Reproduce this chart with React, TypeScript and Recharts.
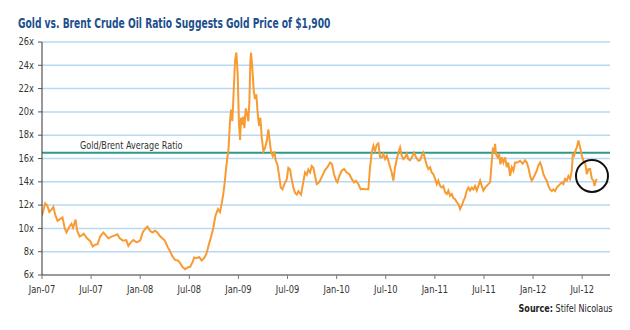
import React from 'react';
import { LineChart, Line, XAxis, YAxis, CartesianGrid, ReferenceLine, ReferenceDot } from 'recharts';

// x = months since Jan-2007, y = gold / brent ratio
const months: number[] = [
  0.0, 0.4, 0.65, 0.9, 1.2, 1.4, 1.6, 1.9, 2.2, 2.5, 2.8, 3.0, 3.3, 3.6, 3.8, 4.1, 4.3, 4.6, 4.85, 5.1,
  5.5, 5.9, 6.2, 6.5, 6.8, 7.1, 7.5, 7.8, 8.1, 8.5, 8.9, 9.2, 9.5, 9.9, 10.3, 10.55, 10.85, 11.15, 11.55, 12.0,
  12.3, 12.6, 12.9, 13.2, 13.5, 13.8, 14.1, 14.4, 14.7, 15.0, 15.4, 15.6, 15.9, 16.25, 16.6, 16.9, 17.15, 17.5, 17.8, 18.1,
  18.4, 18.6, 18.9, 19.2, 19.5, 19.8, 20.1, 20.4, 20.65, 20.9, 21.2, 21.5, 21.75, 21.95, 22.15, 22.35, 22.5, 22.65, 22.77, 22.97,
  23.1, 23.26, 23.42, 23.59, 23.75, 23.91, 24.07, 24.2, 24.32, 24.48, 24.6, 24.73, 24.89, 25.05, 25.21, 25.34, 25.46, 25.54, 25.7, 25.87,
  26.03, 26.19, 26.36, 26.52, 26.68, 26.85, 27.05, 27.25, 27.46, 27.66, 27.82, 27.98, 28.19, 28.39, 28.56, 28.76, 28.96, 29.17, 29.37, 29.61,
  29.9, 30.1, 30.31, 30.51, 30.71, 30.92, 31.13, 31.33, 31.65, 31.94, 32.14, 32.35, 32.54, 32.75, 32.96, 33.16, 33.36, 33.57, 33.77, 33.97,
  34.3, 34.58, 34.87, 35.2, 35.44, 35.68, 35.93, 36.09, 36.33, 36.62, 36.91, 37.23, 37.56, 37.84, 38.13, 38.37, 38.66, 38.94, 39.27, 39.55,
  39.88, 40.08, 40.29, 40.49, 40.69, 40.9, 41.1, 41.31, 41.51, 41.71, 41.92, 42.12, 42.32, 42.53, 42.73, 42.93, 43.14, 43.35, 43.54, 43.75,
  43.95, 44.15, 44.36, 44.57, 44.76, 44.97, 45.18, 45.46, 45.7, 45.99, 46.19, 46.4, 46.6, 46.8, 47.01, 47.21, 47.42, 47.62, 47.82, 48.03,
  48.23, 48.43, 48.64, 48.84, 49.04, 49.25, 49.46, 49.65, 49.86, 50.07, 50.26, 50.47, 50.68, 50.87, 51.08, 51.29, 51.48, 51.69, 51.9, 52.09,
  52.3, 52.51, 52.71, 52.91, 53.12, 53.32, 53.53, 53.73, 53.93, 54.14, 54.34, 54.54, 54.75, 54.96, 55.08, 55.24, 55.36, 55.48, 55.69, 55.85,
  56.01, 56.18, 56.37, 56.58, 56.79, 56.98, 57.19, 57.4, 57.6, 57.8, 58.09, 58.41, 58.74, 59.02, 59.23, 59.42, 59.64, 59.84, 60.04, 60.25,
  60.45, 60.65, 60.86, 61.07, 61.26, 61.47, 61.67, 61.87, 62.08, 62.29, 62.48, 62.69, 62.9, 63.09, 63.3, 63.51, 63.7, 63.91, 64.12, 64.32,
  64.52, 64.73, 64.85, 65.01, 65.17, 65.35, 65.54, 65.75, 65.95, 66.15, 66.36, 66.57, 66.77, 66.97, 67.18, 67.38, 67.5, 67.67, 67.79,
];

const ratio: number[] = [
  11.1, 12.15, 11.95, 11.4, 11.65, 11.85, 11.2, 10.65, 10.8, 10.95, 9.95, 9.65, 10.1, 10.4, 10.05, 10.75, 9.8, 9.3, 9.4, 9.55,
  9.15, 8.9, 8.45, 8.6, 8.65, 9.3, 9.65, 9.4, 9.15, 9.3, 9.4, 9.5, 9.15, 8.95, 9.0, 8.5, 8.8, 9.0, 8.8, 8.95,
  9.65, 9.95, 10.15, 9.8, 9.65, 9.8, 9.65, 9.35, 9.15, 8.95, 8.35, 8.1, 7.65, 7.3, 7.25, 7.0, 6.7, 6.5, 6.65, 6.7,
  7.1, 7.5, 7.45, 7.55, 7.25, 7.45, 7.85, 8.65, 9.25, 9.95, 11.1, 11.65, 11.4, 12.1, 12.95, 14.1, 15.2, 16.1, 16.6, 19.2,
  20.2, 19.2, 21.8, 24.4, 25.1, 23.2, 18.9, 17.6, 19.5, 18.9, 19.6, 18.6, 20.3, 19.9, 19.2, 20.9, 24.4, 25.1, 23.8, 21.8,
  21.1, 21.5, 19.8, 18.8, 19.5, 17.8, 16.6, 16.9, 17.5, 18.5, 17.5, 16.6, 16.2, 16.6, 15.8, 15.5, 14.6, 13.5, 13.35, 13.8,
  14.2, 15.2, 15.05, 14.2, 13.5, 13.05, 12.9, 13.2, 12.9, 14.05, 14.8, 14.6, 15.05, 14.8, 15.35, 15.2, 14.5, 13.8, 13.9, 14.1,
  14.6, 15.0, 15.25, 15.65, 15.5, 14.65, 14.1, 13.95, 14.5, 14.95, 15.1, 14.8, 14.65, 14.25, 13.95, 14.1, 13.8, 13.35, 13.4, 13.35,
  13.35, 15.25, 16.5, 17.1, 16.65, 17.2, 17.3, 16.1, 16.1, 16.4, 15.95, 16.25, 15.8, 15.25, 14.8, 14.1, 15.25, 15.95, 16.5, 16.95,
  16.25, 15.95, 16.1, 16.4, 15.95, 15.85, 16.1, 16.5, 16.1, 15.8, 15.85, 16.25, 16.5, 15.95, 15.4, 15.1, 15.25, 14.8, 14.65, 14.25,
  13.8, 14.1, 13.65, 13.5, 13.65, 13.1, 12.95, 13.25, 12.8, 12.95, 12.6, 12.5, 12.25, 12.1, 11.65, 11.95, 12.35, 12.65, 13.25, 13.5,
  13.25, 13.5, 13.35, 13.65, 13.25, 13.65, 14.1, 13.65, 13.25, 13.5, 13.65, 13.8, 13.95, 15.8, 16.8, 16.65, 17.25, 16.35, 16.1, 16.4,
  15.5, 16.1, 15.65, 16.1, 15.25, 15.65, 14.5, 15.25, 14.95, 15.65, 15.65, 15.8, 15.55, 15.85, 15.65, 15.25, 14.5, 14.1, 14.35, 14.65,
  14.95, 15.4, 15.65, 15.25, 14.65, 14.35, 14.1, 13.65, 13.35, 13.2, 13.35, 13.2, 13.5, 13.65, 13.8, 13.95, 13.8, 14.25, 14.1, 14.5,
  14.25, 14.95, 16.35, 16.25, 16.65, 16.95, 17.55, 16.95, 16.25, 15.8, 15.65, 14.65, 15.1, 15.1, 14.25, 14.1, 13.65, 14.1, 14.25,
];

const tickMonths: number[] = [0, 6, 12, 18, 24, 30, 36, 42, 48, 54, 60, 66];
const tickLabels: string[] = ['Jan-07', 'Jul-07', 'Jan-08', 'Jul-08', 'Jan-09', 'Jul-09', 'Jan-10', 'Jul-10', 'Jan-11', 'Jul-11', 'Jan-12', 'Jul-12'];
const yTicks: number[] = [6, 8, 10, 12, 14, 16, 18, 20, 22, 24, 26];
const averageRatio = 16.5;
const circleAt = { month: 67.2, value: 14.5 };

const data = months.map((t, i) => ({ t, r: ratio[i] }));

const FONT = "'DejaVu Sans Condensed', 'Liberation Sans', Arial, sans-serif";
const SQUEEZE = 0.84;

const XTick = (props: any) => {
  const { x, y, payload } = props;
  const label = tickLabels[tickMonths.indexOf(payload.value)] ?? '';
  return (
    <text transform={`translate(${x},${y + 9}) scale(${SQUEEZE},1)`} textAnchor="middle" dominantBaseline="middle" fontSize={11} fill="#333" fontFamily={FONT}>
      {label}
    </text>
  );
};

const YTick = (props: any) => {
  const { x, y, payload } = props;
  return (
    <text transform={`translate(${x},${y}) scale(${SQUEEZE},1)`} textAnchor="end" dominantBaseline="middle" fontSize={11} fill="#333" fontFamily={FONT}>
      {`${payload.value}x`}
    </text>
  );
};

const AvgLabel = (props: any) => {
  const { viewBox } = props;
  const x = viewBox.x + 38;
  const y = viewBox.y - 4;
  return (
    <text transform={`translate(${x},${y}) scale(0.82,1)`} fontSize={11} fill="#333" fontFamily={FONT}>
      Gold/Brent Average Ratio
    </text>
  );
};

export default function App() {
  return (
    <div style={{ position: 'absolute', left: 0, top: 0, width: 630, height: 330, background: '#fff', fontFamily: FONT }}>
      <div style={{ position: 'absolute', left: 18, top: 15, fontSize: 14.5, fontWeight: 'bold', color: '#1c4f8c', whiteSpace: 'nowrap', transform: 'scaleX(0.7)', transformOrigin: 'left top' }}>
        Gold vs. Brent Crude Oil Ratio Suggests Gold Price of $1,900
      </div>
      <LineChart width={630} height={330} data={data} margin={{ top: 42, right: 20, bottom: 25, left: 0 }}>
        <CartesianGrid horizontal vertical={false} stroke="#b7daf2" strokeWidth={1.5} />
        <XAxis
          dataKey="t"
          type="number"
          domain={[0, 69.4]}
          ticks={tickMonths}
          axisLine={{ stroke: '#9a9a9a', strokeWidth: 2 }}
          tickLine={{ stroke: '#777' }}
          tickSize={4}
          tickMargin={2}
          height={30}
          tick={<XTick />}
          interval={0}
          allowDataOverflow
        />
        <YAxis
          type="number"
          domain={[6, 26]}
          ticks={yTicks}
          axisLine={{ stroke: '#333', strokeWidth: 1 }}
          tickLine={{ stroke: '#555' }}
          tickSize={4}
          tickMargin={4}
          width={42}
          tick={<YTick />}
          interval={0}
        />
        <ReferenceLine y={averageRatio} stroke="#2e9a8e" strokeWidth={2} label={<AvgLabel />} />
        <Line dataKey="r" stroke="#f89b32" strokeWidth={2} dot={false} isAnimationActive={false} type="linear" />
        <ReferenceDot x={circleAt.month} y={circleAt.value} r={16} fill="none" stroke="#111" strokeWidth={2} />
      </LineChart>
      <div style={{ position: 'absolute', right: 17, top: 302, fontSize: 10.5, color: '#222', whiteSpace: 'nowrap', transform: 'scaleX(0.85)', transformOrigin: 'right top' }}>
        <b>Source:</b> Stifel Nicolaus
      </div>
    </div>
  );
}
